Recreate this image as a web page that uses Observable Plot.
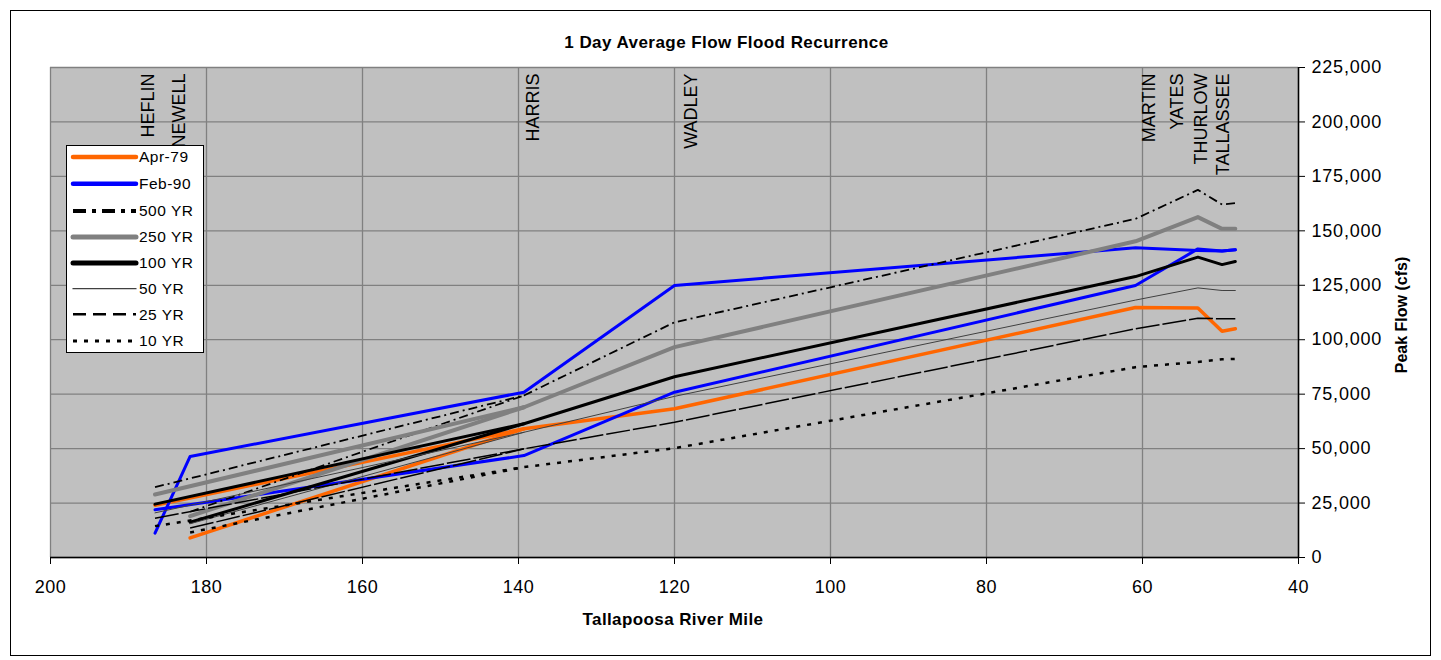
<!DOCTYPE html>
<html><head><meta charset="utf-8">
<script src="https://cdn.jsdelivr.net/npm/d3@7"></script>
<script src="https://cdn.jsdelivr.net/npm/@observablehq/plot@0.6"></script>
<style>
html,body{margin:0;padding:0;background:#fff;}
#wrap{position:relative;width:1441px;height:660px;font-family:"Liberation Sans",Arial,sans-serif;overflow:hidden;background:#fff;}
#border{position:absolute;left:10px;top:10px;width:1421px;height:646px;border:1px solid #000;box-sizing:border-box;}
#chart{position:absolute;left:0;top:0;}
#title{position:absolute;left:6px;width:1441px;top:33px;line-height:20px;text-align:center;font-weight:bold;font-size:17px;letter-spacing:0.45px;}
#xtitle{position:absolute;left:0;width:1346px;top:610px;line-height:20px;text-align:center;font-weight:bold;font-size:17px;letter-spacing:0.4px;}
#ytitle{position:absolute;left:1302px;width:200px;top:305px;height:20px;line-height:20px;text-align:center;font-weight:bold;font-size:16px;transform:rotate(-90deg);transform-origin:50% 50%;}
#legend{position:absolute;left:66px;top:145px;width:138px;height:208px;border:1px solid #000;background:#fff;box-sizing:border-box;}
g[aria-label="x-axis tick label"] text{letter-spacing:0.5px;}
g[aria-label="y-axis tick label"] text{letter-spacing:0.8px;}
</style>
</head><body>
<div id="wrap">
  <div id="border"></div>
  <div id="chart"></div>
  <div id="title">1 Day Average Flow Flood Recurrence</div>
  <div id="xtitle">Tallapoosa River Mile</div>
  <div id="ytitle">Peak Flow (cfs)</div>
  <div id="legend"></div>
</div>
<script>
// ---- data ----
const xTicks = [200, 180, 160, 140, 120, 100, 80, 60, 40];
const yTicks = [0, 25000, 50000, 75000, 100000, 125000, 150000, 175000, 200000, 225000];
const stationNames = ["HEFLIN", "NEWELL", "HARRIS", "WADLEY", "MARTIN", "YATES", "THURLOW", "TALLASSEE"];
const stationLabelMiles = [187.5, 183.55, 138.1, 117.8, 59.1, 55.55, 52.5, 49.7];

const seriesNames = ["Apr-79", "Feb-90", "500 YR", "250 YR", "100 YR", "50 YR", "25 YR", "10 YR"];
const heflinMile = 186.6;
const newellMile = 182.1;
const mainMiles = [139.3, 120.0, 60.9, 52.9, 49.8, 48.1]; // Harris, Wadley, Martin, Thurlow, Tallassee reach
const heflinFlow = [24000, 11200, 32300, 28900, 24500, 20500, 18000, 14400];
const newellFlow = [9000, 46400, 21000, 19000, 16200, 15500, 13500, 11500];
const apr79Flow  = [59100, 68300, 114800, 114600, 103900, 105000];
const feb90Flow  = [75900, 124900, 142200, 141000, 140700, 141300];
const feb90SecondHeflin = 21900;
const feb90SecondFlow = [46800, 75900, 124900, 141700, 140700, 141300];
const yr500Flow  = [74400, 108000, 155500, 168800, 162100, 162700];
const yr250Flow  = [69000, 96600, 145200, 156300, 150900, 150900];
const yr100Flow  = [61400, 83000, 129000, 137900, 134500, 135900];
const yr50Flow   = [57500, 74000, 118200, 123800, 122600, 122600];
const yr25Flow   = [49900, 62100, 105000, 109900, 109600, 109600];
const yr10Flow   = [41500, 50200, 87400, 89800, 91000, 91200];
const mainFlows = [apr79Flow, feb90Flow, yr500Flow, yr250Flow, yr100Flow, yr50Flow, yr25Flow, yr10Flow];

// ---- styles ----
const styles = [
  {stroke: "#ff6600", w: 3.5, dash: null, lw: 4.5, ldash: null},
  {stroke: "#0000ff", w: 3, dash: null, lw: 4.5, ldash: null},
  {stroke: "#000000", w: 1.8, dash: "9,4,2,4", lw: 4, ldash: "13,6,4,6"},
  {stroke: "#808080", w: 4, dash: null, lw: 5, ldash: null},
  {stroke: "#000000", w: 3, dash: null, lw: 5, ldash: null},
  {stroke: "#404040", w: 1, dash: null, lw: 1.3, ldash: null},
  {stroke: "#000000", w: 1.5, dash: "24,3", lw: 2.5, ldash: "13,7"},
  {stroke: "#000000", w: 2.5, dash: "4,7", lw: 2.8, ldash: "4,7"}
];

function rowsFor(i) {
  const rows = [];
  const main = mainFlows[i];
  if (i === 1) {
    rows.push({b: "a", mile: heflinMile, flow: heflinFlow[i]});
    rows.push({b: "a", mile: newellMile, flow: newellFlow[i]});
    main.forEach((f, k) => rows.push({b: "a", mile: mainMiles[k], flow: f}));
    rows.push({b: "b", mile: heflinMile, flow: feb90SecondHeflin});
    feb90SecondFlow.forEach((f, k) => rows.push({b: "b", mile: mainMiles[k], flow: f}));
  } else {
    rows.push({b: "a", mile: heflinMile, flow: heflinFlow[i]});
    main.forEach((f, k) => rows.push({b: "a", mile: mainMiles[k], flow: f}));
    rows.push({b: "b", mile: newellMile, flow: newellFlow[i]});
    rows.push({b: "b", mile: mainMiles[0], flow: main[0]});
  }
  return rows;
}

const lineMarks = seriesNames.map((name, i) => {
  const s = styles[i];
  const opts = {x: "mile", y: "flow", z: "b", stroke: s.stroke, strokeWidth: s.w, strokeLinejoin: "round"};
  if (s.dash) { opts.strokeDasharray = s.dash; opts.strokeLinecap = "butt"; }
  return Plot.line(rowsFor(i), opts);
});

const stations = stationNames.map((n, i) => ({name: n, mile: stationLabelMiles[i]}));

const chart = Plot.plot({
  width: 1441, height: 660,
  marginLeft: 50, marginRight: 143, marginTop: 67, marginBottom: 103,
  style: {background: "transparent", fontFamily: "'Liberation Sans', Arial, sans-serif", color: "#000"},
  x: {domain: [200, 40], label: null},
  y: {domain: [0, 225000], label: null},
  marks: [
    Plot.frame({fill: "#c0c0c0", stroke: "none"}),
    Plot.gridX(xTicks, {stroke: "#808080", strokeOpacity: 1, strokeWidth: 1.3}),
    Plot.gridY(yTicks, {stroke: "#808080", strokeOpacity: 1, strokeWidth: 1.3}),
    ...lineMarks,
    Plot.text(stations, {x: "mile", text: "name", frameAnchor: "top", dy: 6, rotate: -90, textAnchor: "end", lineAnchor: "middle", fontSize: 18, fill: "#000"}),
    Plot.ruleY([0], {stroke: "#000", strokeWidth: 1.5}),
    Plot.ruleX([40], {stroke: "#000", strokeWidth: 1.5}),
    Plot.axisX(xTicks, {anchor: "bottom", tickSize: 7, tickPadding: 16, fontSize: 18, label: null, stroke: "#000"}),
    Plot.axisY(yTicks, {anchor: "right", tickSize: 6, tickPadding: 7, fontSize: 18, tickFormat: d3.format(","), label: null, stroke: "#000"})
  ]
});
document.getElementById("chart").appendChild(chart);

// ---- legend ----
const rowY = [11, 37.7, 65, 91, 117, 142.7, 168.3, 195];
const lg = d3.select("#legend").append("svg").attr("width", 136).attr("height", 206)
  .style("position", "absolute").style("left", "0").style("top", "0");
seriesNames.forEach((name, i) => {
  const s = styles[i];
  const ln = lg.append("line").attr("x1", 6).attr("x2", 69).attr("y1", rowY[i]).attr("y2", rowY[i])
    .attr("stroke", s.stroke).attr("stroke-width", s.lw);
  if (s.ldash) ln.attr("stroke-dasharray", s.ldash);
  else ln.attr("stroke-linecap", "round");
  lg.append("text").attr("x", 72).attr("y", rowY[i]).attr("dy", "0.35em")
    .attr("font-size", 15.5).attr("letter-spacing", "0.5px")
    .attr("font-family", "'Liberation Sans', Arial, sans-serif").text(name);
});
</script>
</body></html>
